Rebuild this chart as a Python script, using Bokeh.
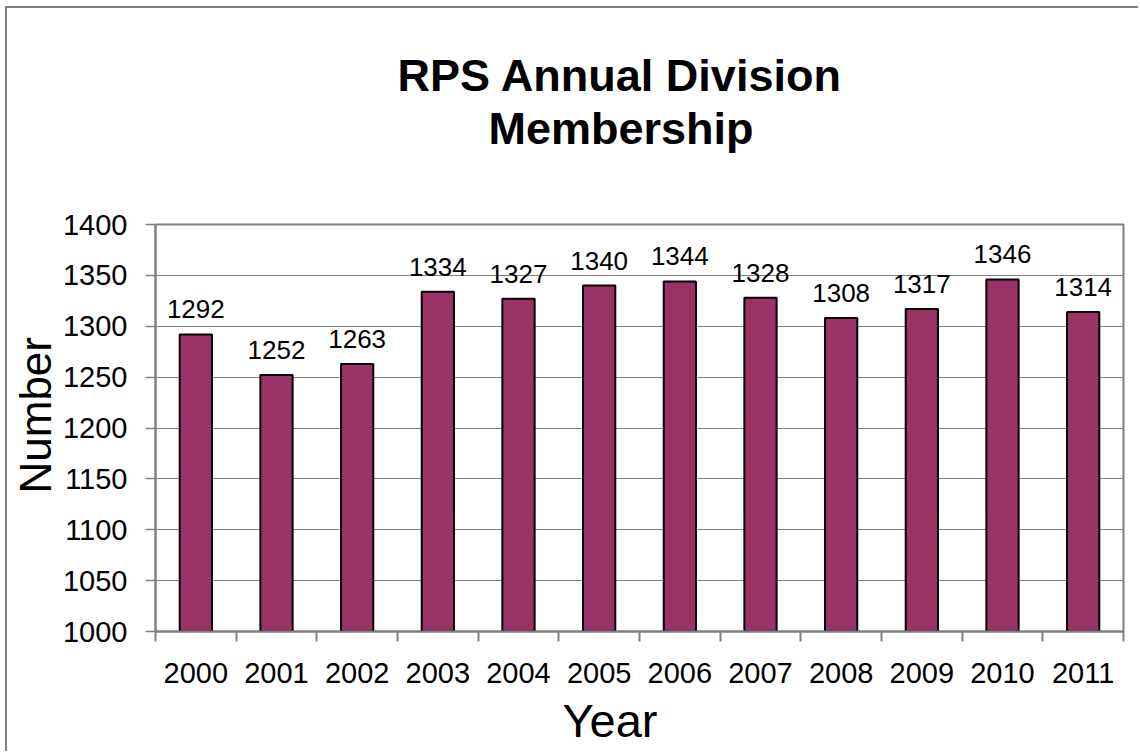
import numpy as np
from bokeh.plotting import figure
from bokeh.models import (ColumnDataSource, Range1d, FixedTicker, LabelSet, Title)
from bokeh.core.properties import value
from bokeh.embed import file_html
from bokeh.resources import INLINE

years = ["2000", "2001", "2002", "2003", "2004", "2005",
         "2006", "2007", "2008", "2009", "2010", "2011"]
members = [1292, 1252, 1263, 1334, 1327, 1340, 1344, 1328, 1308, 1317, 1346, 1314]
y_ticks = [1000, 1050, 1100, 1150, 1200, 1250, 1300, 1350, 1400]
title_lines = ["RPS Annual Division", "Membership"]
x_title = "Year"
y_title = "Number"

FONT = "Liberation Sans"
GREY = "#808080"

n = len(years)
centers = [i + 0.5 for i in range(n)]
bounds = [float(i) for i in range(n + 1)]

src = ColumnDataSource(dict(x=centers, top=members,
                            bottom=[y_ticks[0]] * n,
                            label=[str(v) for v in members]))

p = figure(width=1133, height=745, output_backend="svg", toolbar_location=None,
           x_range=Range1d(0, n), y_range=Range1d(y_ticks[0], y_ticks[-1]),
           min_border_left=148, min_border_right=17,
           min_border_top=216, min_border_bottom=122)
p.styles = {"border-left": "2px solid #808080", "border-top": "2px solid #808080",
            "margin-left": "5px", "margin-top": "6px"}

p.vbar(x="x", top="top", bottom="bottom", width=0.4, source=src,
       fill_color="#993366", line_color="black", line_width=2)

p.add_layout(LabelSet(x="x", y="top", text="label", source=src,
                      text_align="center", text_baseline="alphabetic",
                      y_offset=16, text_font=value(FONT), text_font_size="26px",
                      text_color="black"))

# axes
xa = p.xaxis[0]
xa.ticker = FixedTicker(ticks=centers, minor_ticks=bounds)
xa.major_label_overrides = {c: y for c, y in zip(centers, years)}
xa.major_tick_out = 0
xa.major_tick_in = 0
xa.minor_tick_out = 10
xa.minor_tick_in = 0
xa.minor_tick_line_color = GREY
xa.minor_tick_line_width = 2
xa.axis_line_color = GREY
xa.axis_line_width = 2
xa.major_label_standoff = 21
xa.major_label_text_font = FONT
xa.major_label_text_font_size = "29px"
xa.major_label_text_color = "black"

ya = p.yaxis[0]
ya.ticker = FixedTicker(ticks=y_ticks)
ya.major_tick_out = 10
ya.major_tick_in = 0
ya.minor_tick_out = 0
ya.minor_tick_in = 0
ya.major_tick_line_color = GREY
ya.major_tick_line_width = 1.5
ya.axis_line_color = GREY
ya.axis_line_width = 2
ya.major_label_standoff = 18
ya.major_label_text_font = FONT
ya.major_label_text_font_size = "29px"
ya.major_label_text_color = "black"

p.xgrid.grid_line_color = None
p.ygrid.grid_line_color = GREY
p.ygrid.grid_line_width = 1

p.outline_line_color = GREY
p.outline_line_width = 2
p.background_fill_color = "white"
p.border_fill_color = "white"

def make_title(text, size, bold, offset, standoff=0):
    return Title(text=text, align="left", offset=offset, standoff=standoff,
                 text_font=FONT, text_font_size=size,
                 text_font_style="bold" if bold else "normal", text_color="black")

# spacer between the frame and the two-line chart title
p.add_layout(Title(text=" ", text_font_size="1px", standoff=68), "above")
p.add_layout(make_title(title_lines[1], "45px", True, 333), "above")
p.add_layout(make_title(title_lines[0], "45px", True, 242), "above")
p.add_layout(make_title(x_title, "47px", False, 407, standoff=13), "below")
p.add_layout(make_title(y_title, "44px", False, 138), "left")

open("out.html", "w").write(file_html(p, INLINE))
